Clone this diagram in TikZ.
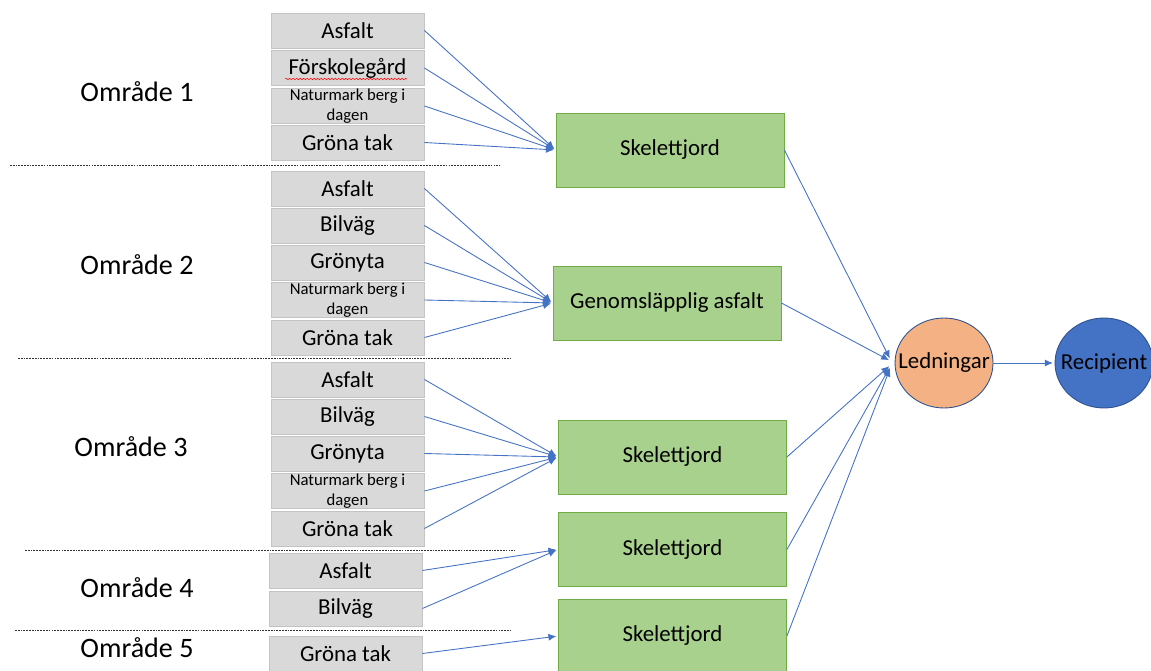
\documentclass[tikz,border=0pt]{standalone}
\usepackage{fontspec}
\setmainfont{Carlito}
\usepackage{tikz}
\usetikzlibrary{shapes, arrows, arrows.meta, positioning, decorations.pathmorphing}

\definecolor{flowblue}{HTML}{4472C4}
\definecolor{ringblue}{HTML}{2F528F}
\definecolor{surfgray}{HTML}{D9D9D9}
\definecolor{surfline}{HTML}{C4C4C4}
\definecolor{treatgreen}{HTML}{A9D18E}
\definecolor{treatline}{HTML}{70AD47}
\definecolor{pipeorange}{HTML}{F4B183}

\begin{document}
\begin{tikzpicture}[>={Latex[length=4.5pt, width=4pt]}, shorten >=1pt, line width=0.5pt, x=0.02cm, y=-0.02cm,
    surface/.style={rectangle, draw=surfline, fill=surfgray, minimum width=3.06cm, minimum height=0.7cm, inner sep=0pt, font=\fontsize{13}{15.6}\selectfont},
    small/.style={align=center, font=\fontsize{9.5}{11.2}\selectfont},
    treat/.style={rectangle, draw=treatline, fill=treatgreen, minimum width=4.56cm, minimum height=1.48cm, inner sep=0pt, font=\fontsize{13}{15.6}\selectfont},
    pipe/.style={ellipse, draw=ringblue, minimum width=1.96cm, minimum height=1.8cm, inner sep=0pt, font=\fontsize{13}{15.6}\selectfont},
    area/.style={font=\fontsize{16}{19}\selectfont},
    sep/.style={shorten >=0pt, black!80, line width=0.4pt, dash pattern=on 1pt off 0.6pt},
    flow/.style={->, flowblue, line width=0.5pt}]
    \useasboundingbox (0,0) rectangle (1151,671);

    % areas
    \node [area] (omr1) at (137, 92) {Område 1};
    \node [area] (omr2) at (137, 265) {Område 2};
    \node [area] (omr3) at (131, 447) {Område 3};
    \node [area] (omr4) at (137, 588) {Område 4};
    \node [area] (omr5) at (137, 648) {Område 5};

    \draw [sep] (10, 165) -- (500, 165);
    \draw [sep] (18, 358) -- (510, 358);
    \draw [sep] (25, 550) -- (515, 550);
    \draw [sep] (15, 630) -- (510, 630);

    % surfaces
    \node [surface] (asf1) at (347.5, 30.5) {Asfalt};
    \node [surface] (fsk1) at (347.5, 68) {Förskolegård};
    \node [surface, small] (nat1) at (347.5, 106) {Naturmark berg i\\dagen};
    \node [surface] (gt1) at (347.5, 142.5) {Gröna tak};
    \draw [shorten >=0pt, red, line width=0.3pt, decorate, decoration={snake, amplitude=0.4pt, segment length=2pt}] (285, 79) -- (407, 79);

    \node [surface] (asf2) at (347.5, 188.5) {Asfalt};
    \node [surface] (bil2) at (347.5, 225.5) {Bilväg};
    \node [surface] (gy2) at (347.5, 262.5) {Grönyta};
    \node [surface, small] (nat2) at (347.5, 300) {Naturmark berg i\\dagen};
    \node [surface] (gt2) at (347.5, 337.5) {Gröna tak};

    \node [surface] (asf3) at (347.5, 379.5) {Asfalt};
    \node [surface] (bil3) at (347.5, 416.5) {Bilväg};
    \node [surface] (gy3) at (347.5, 453.5) {Grönyta};
    \node [surface, small] (nat3) at (347.5, 491) {Naturmark berg i\\dagen};
    \node [surface] (gt3) at (347.5, 528.5) {Gröna tak};

    \node [surface] (asf4) at (345.5, 570.5) {Asfalt};
    \node [surface] (bil4) at (345.5, 608.5) {Bilväg};

    \node [surface] (gt5) at (345.5, 653.5) {Gröna tak};

    % treatment
    \node [treat] (sk1) at (670, 150) {Skelettjord};
    \node [treat] (gen2) at (667, 303) {Genomsläpplig asfalt};
    \node [treat] (sk3) at (672.5, 457) {Skelettjord};
    \node [treat] (sk4) at (672.5, 549.5) {Skelettjord};
    \node [treat] (sk5) at (672.5, 636) {Skelettjord};

    \node [pipe, fill=pipeorange] (led) at (944, 363) {\makebox[0pt]{Ledningar}};
    \node [pipe, fill=flowblue] (rec) at (1104, 363) {\makebox[0pt]{Recipient}};

    \path (asf1.east) edge [flow] (sk1.west);
    \path (fsk1.east) edge [flow] (sk1.west);
    \path (nat1.east) edge [flow] (sk1.west);
    \path (gt1.east) edge [flow] (sk1.west);

    \path (asf2.east) edge [flow] (gen2.west);
    \path (bil2.east) edge [flow] (gen2.west);
    \path (gy2.east) edge [flow] (gen2.west);
    \path (nat2.east) edge [flow] (gen2.west);
    \path (gt2.east) edge [flow] (gen2.west);

    \path (asf3.east) edge [flow] (sk3.west);
    \path (bil3.east) edge [flow] (sk3.west);
    \path (gy3.east) edge [flow] (sk3.west);
    \path (nat3.east) edge [flow] (sk3.west);
    \path (gt3.east) edge [flow] (sk3.west);

    \path (asf4.east) edge [flow] (sk4.west);
    \path (bil4.east) edge [flow] (sk4.west);
    \path (gt5.east) edge [flow] (sk5.west);

    \path (sk1.east) edge [flow] ([shift={(-4,-3)}]led.west);
    \path (gen2.east) edge [flow] ([shift={(-4,-2)}]led.west);
    \path (sk3.east) edge [flow] ([shift={(-4,2)}]led.west);
    \path (sk4.east) edge [flow] ([shift={(-4,3)}]led.west);
    \path (sk5.east) edge [flow] ([shift={(-4,4)}]led.west);

    \path (led.east) edge [flow] (rec.west);
\end{tikzpicture}
\end{document}
